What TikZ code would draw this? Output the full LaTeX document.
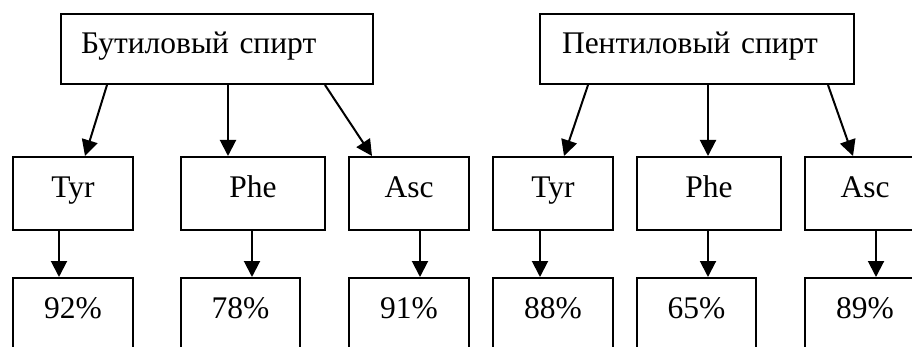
\documentclass[tikz,border=0pt]{standalone}
\usepackage{fontspec}
\setmainfont{Liberation Serif}
\usetikzlibrary{arrows.meta}
\begin{document}
\begin{tikzpicture}[x=1pt,y=-1pt,
  box/.style={draw, line width=2pt, anchor=north west, inner sep=0pt,
    text height=20pt, text depth=11pt, font=\fontsize{31.5}{33}\selectfont},
  topbox/.style={box, minimum height=70pt, align=left, text depth=10pt},
  midbox/.style={box, minimum width=#1, minimum height=73pt, align=center},
  botbox/.style={box, minimum width=#1, minimum height=73pt, align=center, text depth=13pt},
  arr/.style={line width=2pt, -{Triangle[length=16pt,width=16pt]}}]
\path[use as bounding box, clip] (0,0) rectangle (912,347);
% top boxes
\node[topbox, text width=272pt, inner xsep=20pt] (bt) at (60,13) {Бутиловый спирт};
\node[topbox, text width=270pt, inner xsep=22pt] (pt) at (539,13) {Пентиловый спирт};
% middle row
\node[midbox=120pt] (tyr1) at (12,156) {Tyr};
\node[midbox=144pt] (phe1) at (180,156) {Phe};
\node[midbox=120pt] (asc1) at (348,156) {Asc};
\node[midbox=120pt] (tyr2) at (492,156) {Tyr};
\node[midbox=144pt] (phe2) at (636,156) {Phe};
\node[midbox=120pt] (asc2) at (804,156) {Asc};
% bottom row
\node[botbox=120pt] (r1) at (12,277) {92\%};
\node[botbox=119pt] (r2) at (180,277) {78\%};
\node[botbox=120pt] (r3) at (348,277) {91\%};
\node[botbox=120pt] (r4) at (492,277) {88\%};
\node[botbox=119pt] (r5) at (636,277) {65\%};
\node[botbox=120pt] (r6) at (804,277) {89\%};
% arrows from top boxes
\draw[arr] ([xshift=47pt]bt.south west) -- ([xshift=73pt]tyr1.north west);
\draw[arr] ([xshift=168pt]bt.south west) -- ([xshift=48pt]phe1.north west);
\draw[arr] ([xshift=265pt]bt.south west) -- ([xshift=24pt]asc1.north west);
\draw[arr] ([xshift=49pt]pt.south west) -- ([xshift=72pt]tyr2.north west);
\draw[arr] ([xshift=169pt]pt.south west) -- ([xshift=72pt]phe2.north west);
\draw[arr] ([xshift=289pt]pt.south west) -- ([xshift=49pt]asc2.north west);
% arrows to results
\draw[arr] ([xshift=47pt]tyr1.south west) -- ([xshift=47pt]r1.north west);
\draw[arr] ([xshift=72pt]phe1.south west) -- ([xshift=72pt]r2.north west);
\draw[arr] ([xshift=72pt]asc1.south west) -- ([xshift=72pt]r3.north west);
\draw[arr] ([xshift=48pt]tyr2.south west) -- ([xshift=48pt]r4.north west);
\draw[arr] ([xshift=72pt]phe2.south west) -- ([xshift=72pt]r5.north west);
\draw[arr] ([xshift=72pt]asc2.south west) -- ([xshift=72pt]r6.north west);
\end{tikzpicture}
\end{document}
